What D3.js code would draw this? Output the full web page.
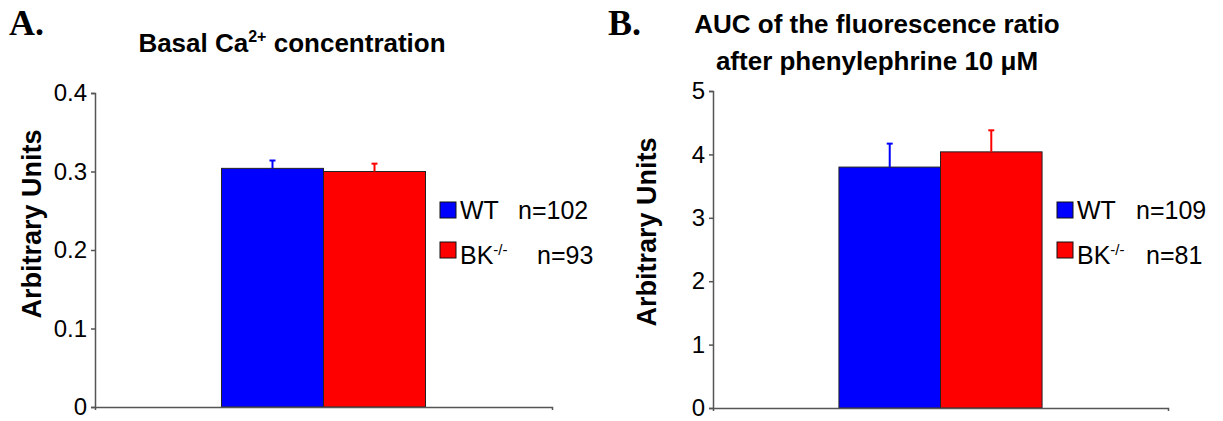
<!DOCTYPE html>
<html>
<head>
<meta charset="utf-8">
<script src="https://cdn.jsdelivr.net/npm/d3@7"></script>
<style>
  body { margin: 0; background: #fff; }
  text { font-family: "Liberation Sans", Arial, sans-serif; }
  text.letter { font-family: "Liberation Serif", "Times New Roman", serif; }
</style>
</head>
<body>
<div id="d3-container"></div>
<script>
/* CONSTANTS AND GLOBALS */
const width = 1223,
  height = 421;

/* DATA */
const groups = ["WT", "BK"];
const groupColors = ["#0000ff", "#ff0000"];

// panel A: basal Ca2+
const basalMeans = [0.304, 0.300];
const basalErrors = [0.010, 0.010];
const basalN = ["n=102", "n=93"];
const basalTicks = [0, 0.1, 0.2, 0.3, 0.4];

// panel B: AUC after phenylephrine
const aucMeans = [3.80, 4.04];
const aucErrors = [0.37, 0.34];
const aucN = ["n=109", "n=81"];
const aucTicks = [0, 1, 2, 3, 4, 5];

const svg = d3.select("#d3-container")
  .append("svg")
  .attr("width", width)
  .attr("height", height);

// layout for each panel (positions only, values come from arrays above)
const panels = [
  {
    letter: "A.", letterX: 9,
    means: basalMeans, errors: basalErrors, ns: basalN, ticks: basalTicks,
    yMax: 0.4, fmt: d => d === 0 ? "0" : d3.format(".1f")(d),
    left: 95, right: 552, top: 93, bottom: 407,
    labelX: 41, labelY: 224,
    legX: 440, nOffsets: [78, 97]
  },
  {
    letter: "B.", letterX: 608,
    means: aucMeans, errors: aucErrors, ns: aucN, ticks: aucTicks,
    yMax: 5, fmt: d3.format("d"),
    left: 713, right: 1168, top: 91, bottom: 408,
    labelX: 656, labelY: 232,
    legX: 1057, nOffsets: [79, 89]
  }
];

panels.forEach(p => drawPanel(p));

// titles
svg.append("text")
  .attr("x", 292).attr("y", 52)
  .attr("text-anchor", "middle")
  .attr("font-size", 26).attr("font-weight", "bold")
  .call(t => {
    t.append("tspan").text("Basal Ca");
    t.append("tspan").attr("font-size", 16).attr("dy", -10).text("2+");
    t.append("tspan").attr("dy", 10).text(" concentration");
  });

svg.append("text")
  .attr("x", 877).attr("y", 33)
  .attr("text-anchor", "middle")
  .attr("font-size", 26).attr("font-weight", "bold")
  .text("AUC of the fluorescence ratio");

svg.append("text")
  .attr("x", 877).attr("y", 70)
  .attr("text-anchor", "middle")
  .attr("font-size", 26).attr("font-weight", "bold")
  .text("after phenylephrine 10 μM");

function drawPanel(p) {
  const g = svg.append("g");

  // + SCALES
  const yScale = d3.scaleLinear()
    .domain([0, p.yMax])
    .range([p.bottom, p.top]);

  const xScale = d3.scaleBand()
    .domain(groups)
    .range([p.left, p.right])
    .paddingInner(0)
    .paddingOuter(1.24);

  // panel letter
  g.append("text")
    .attr("class", "letter")
    .attr("x", p.letterX).attr("y", 35)
    .attr("font-size", 36).attr("font-weight", "bold")
    .text(p.letter);

  // + BARS
  g.selectAll(".bar")
    .data(p.means)
    .join("rect")
    .attr("class", "bar")
    .attr("x", (d, i) => xScale(groups[i]))
    .attr("y", d => yScale(d))
    .attr("width", xScale.bandwidth())
    .attr("height", d => yScale(0) - yScale(d))
    .attr("fill", (d, i) => groupColors[i])
    .attr("stroke", "#222")
    .attr("stroke-width", 1);

  // + ERROR BARS (upper only)
  const cx = i => xScale(groups[i]) + xScale.bandwidth() / 2;
  g.selectAll(".err")
    .data(p.means)
    .join("line")
    .attr("class", "err")
    .attr("x1", (d, i) => cx(i)).attr("x2", (d, i) => cx(i))
    .attr("y1", d => yScale(d))
    .attr("y2", (d, i) => yScale(d + p.errors[i]))
    .attr("stroke", (d, i) => groupColors[i])
    .attr("stroke-width", 2);

  g.selectAll(".cap")
    .data(p.means)
    .join("line")
    .attr("class", "cap")
    .attr("x1", (d, i) => cx(i) - 3).attr("x2", (d, i) => cx(i) + 3)
    .attr("y1", (d, i) => yScale(d + p.errors[i]))
    .attr("y2", (d, i) => yScale(d + p.errors[i]))
    .attr("stroke", (d, i) => groupColors[i])
    .attr("stroke-width", 2);

  // + AXES
  const yAxis = d3.axisLeft(yScale)
    .tickValues(p.ticks)
    .tickFormat(p.fmt)
    .tickSize(4)
    .tickPadding(4);

  const yAxisGroup = g.append("g")
    .attr("transform", `translate(${p.left}, 0)`)
    .call(yAxis);
  yAxisGroup.selectAll("path, line").attr("stroke", "#555").attr("stroke-width", 1.5);
  yAxisGroup.selectAll("text")
    .attr("font-size", 24)
    .attr("fill", "#000");

  const xLine = d3.scaleLinear().domain([0, 1]).range([p.left, p.right]);
  const xAxisGroup = g.append("g")
    .attr("transform", `translate(0, ${p.bottom})`)
    .call(d3.axisBottom(xLine).tickValues([]).tickSizeOuter(3));
  xAxisGroup.select("path").attr("stroke", "#555").attr("stroke-width", 1.5);

  // y label
  g.append("text")
    .attr("transform", `translate(${p.labelX}, ${p.labelY}) rotate(-90)`)
    .attr("text-anchor", "middle")
    .attr("font-size", 27).attr("font-weight", "bold")
    .text("Arbitrary Units");

  // + LEGEND
  const rowsY = [202, 242];
  const baseY = [219, 264];
  const leg = g.append("g");
  groups.forEach((grp, i) => {
    leg.append("rect")
      .attr("x", p.legX).attr("y", rowsY[i])
      .attr("width", 16).attr("height", 16)
      .attr("fill", groupColors[i])
      .attr("stroke", "#111").attr("stroke-width", 1);

    const t = leg.append("text")
      .attr("x", p.legX + 20).attr("y", baseY[i])
      .attr("font-size", 25);
    if (grp === "BK") {
      t.append("tspan").text("BK");
      t.append("tspan").attr("font-size", 15).attr("dy", -9).text("-/-");
    } else {
      t.append("tspan").text(grp);
    }
    leg.append("text")
      .attr("x", p.legX + p.nOffsets[i]).attr("y", baseY[i])
      .attr("font-size", 25)
      .text(p.ns[i]);
  });
}
</script>
</body>
</html>
